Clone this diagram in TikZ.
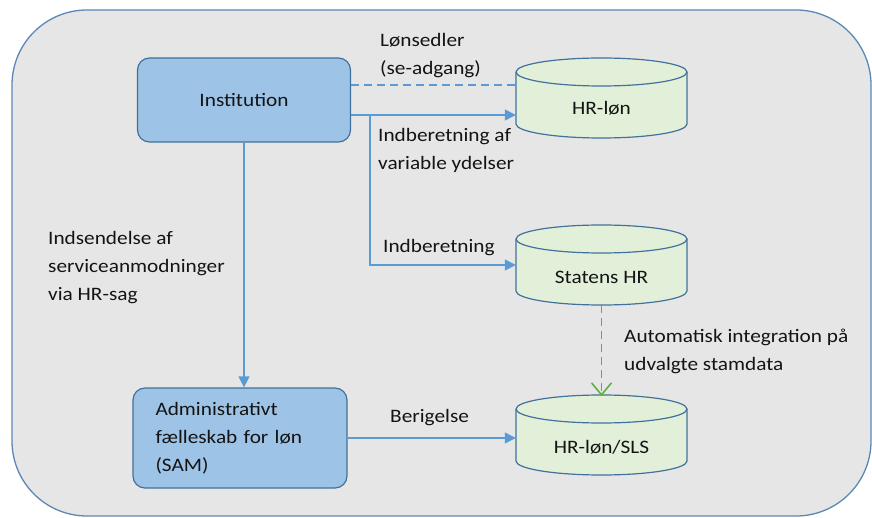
\documentclass[tikz,border=0pt]{standalone}
\usepackage{fontspec}
\setmainfont{Carlito}[FakeStretch=1.12]
\usetikzlibrary{arrows.meta}
\definecolor{bgc}{HTML}{E7E6E6}
\definecolor{framec}{HTML}{41719C}
\definecolor{outerc}{HTML}{5B87B5}
\definecolor{boxfill}{HTML}{9DC3E6}
\definecolor{cylfill}{HTML}{E2F0D9}
\definecolor{connc}{HTML}{5B9BD5}
\definecolor{greenc}{HTML}{5FB040}
\begin{document}
\begin{tikzpicture}[x=1pt,y=-1pt,
  every node/.style={font=\fontsize{19}{28}\selectfont, text=black!92},
  procbox/.style={draw=framec, fill=boxfill, line width=1.2pt, rounded corners=12pt,
    minimum width=213pt, minimum height=84pt, inner sep=0pt},
  dbnode/.style={minimum width=171pt, minimum height=80pt, inner sep=0pt},
  cylpath/.style={draw=framec, fill=cylfill, line width=1.2pt},
  flow/.style={draw=connc, line width=1.3pt, -{Triangle[length=11pt,width=11pt]}},
  gflow/.style={draw=greenc, line width=1.6pt},
  lbl/.style={anchor=west, align=left, inner sep=0pt},
  cyl/.pic={
    \path[cylpath] (-85.5,-26) -- (-85.5,26)
      arc[start angle=180, end angle=360, x radius=85.5pt, y radius=14pt]
      -- (85.5,-26)
      arc[start angle=0, end angle=180, x radius=85.5pt, y radius=14pt] -- cycle;
    \draw[framec, line width=1.2pt] (-85.5,-26)
      arc[start angle=180, end angle=360, x radius=85.5pt, y radius=14pt];
  },
]
\useasboundingbox (0,0) rectangle (872,518);
\draw[fill=bgc, draw=outerc, line width=1.3pt, rounded corners=75pt] (12,10) rectangle (871,516);

% process boxes
\node[procbox] (inst) at (244,100) {Institution};
\node[procbox, minimum width=214pt, minimum height=100pt, text width=169pt, align=left] (sam) at (240,438)
  {Administrativt\\fælleskab for løn\\(SAM)};

% cylinders
\pic at (601.5,98) {cyl};
\node[dbnode, label={[yshift=-10pt]center:HR-løn}] (hrlon) at (601.5,98) {};
\pic at (601.5,265) {cyl};
\node[dbnode, label={[yshift=-12pt]center:Statens HR}] (statens) at (601.5,265) {};
\pic at (601.5,435) {cyl};
\node[dbnode, label={[yshift=-12pt]center:HR-løn/SLS}] (sls) at (601.5,435) {};

% connectors
\coordinate (d1) at ([yshift=15pt]inst.east);
\coordinate (s1) at ([yshift=-15pt]inst.east);
\coordinate (br) at (370,0);
\draw[connc, line width=1.3pt, dash pattern=on 8pt off 5pt] (d1) -- (d1 -| hrlon.west);
\draw[flow] (s1) -- (s1 -| hrlon.west);
\draw[flow] (s1 -| br) |- (statens.west);
\draw[flow] (inst.south) -- (inst.south |- sam.north);
\draw[flow] (sam.east) -- (sam.east -| sls.west);
\draw[gflow, dash pattern=on 8pt off 5pt] (statens.south) -- (sls.north);
\draw[gflow, line join=miter] ([xshift=-10pt,yshift=12pt]sls.north) -- (sls.north) -- ([xshift=10pt,yshift=12pt]sls.north);

% labels
\node[lbl] (l1) at (380,56) {Lønsedler\\(se-adgang)};
\node[lbl] (l2) at (378,150) {Indberetning af\\variable ydelser};
\node[lbl] (l3) at (383,248) {Indberetning};
\node[lbl] (l4) at (48,268) {Indsendelse af\\serviceanmodninger\\via HR-sag};
\node[lbl] (l5) at (624,351) {Automatisk integration på\\udvalgte stamdata};
\node[lbl] (l6) at (390,418) {Berigelse};
\end{tikzpicture}
\end{document}
